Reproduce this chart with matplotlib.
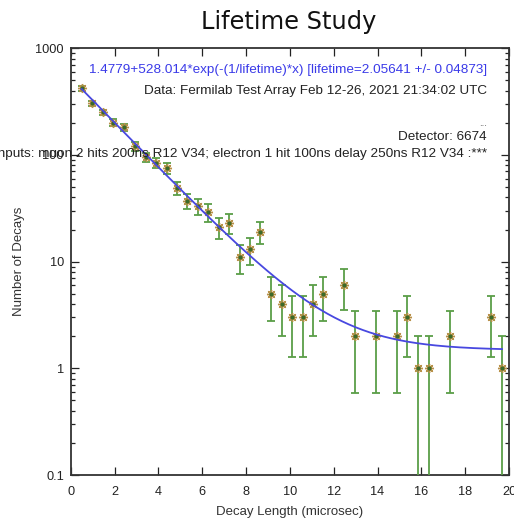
import numpy as np
import matplotlib
matplotlib.use("Agg")
import matplotlib.pyplot as plt
from matplotlib.ticker import LogLocator, FixedLocator, NullFormatter, FixedFormatter

# ---- data ----
decay_length = [0.50, 0.99, 1.46, 1.95, 2.45, 2.94, 3.42, 3.89, 4.38, 4.84,
                5.31, 5.80, 6.28, 6.77, 7.24, 7.73, 8.19, 8.66, 9.13, 9.63,
                10.12, 10.58, 11.05, 11.53, 12.49, 12.99, 13.95, 14.88, 15.36,
                15.84, 16.33, 17.29, 19.20, 19.68]
decays = [422, 305, 251, 201, 182, 121, 95, 84, 75, 49,
          37, 33, 29, 21, 23, 11, 13, 19, 5, 4,
          3, 3, 4, 5, 6, 2, 2, 2, 3,
          1, 1, 2, 3, 1]

fit_offset = 1.4779
fit_amplitude = 528.014
fit_lifetime = 2.05641
fit_lifetime_err = 0.04873

x_ticks = [0, 2, 4, 6, 8, 10, 12, 14, 16, 18, 20]
y_ticks = [0.1, 1, 10, 100, 1000]
y_tick_labels = ["0.1", "1", "10", "100", "1000"]

title = "Lifetime Study"
x_label = "Decay Length (microsec)"
y_label = "Number of Decays"
fit_text = ("1.4779+528.014*exp(-(1/lifetime)*x) "
            "[lifetime=2.05641 +/- 0.04873]")
data_text = "Data: Fermilab Test Array Feb 12-26, 2021 21:34:02 UTC"
dots_text = "..."
detector_text = "Detector: 6674"
inputs_text = ("Inputs: muon 2 hits 200ns R12 V34; electron 1 hit 100ns "
               "delay 250ns R12 V34 :***")

# ---- figure ----
plt.rcParams['font.family'] = ['Liberation Sans', 'DejaVu Sans']
W, H = 514, 522
fig = plt.figure(figsize=(W / 100, H / 100), dpi=100)
ax = fig.add_axes([70.7 / W, 1 - 475 / H, (509 - 70.7) / W, (475 - 48.3) / H])

x = np.array(decay_length)
y = np.array(decays, dtype=float)
yerr = np.sqrt(y)

ax.set_yscale('log', nonpositive='clip')

ax.errorbar(x, y, yerr=yerr, fmt='none', ecolor='#5a9e48', elinewidth=1.3,
            capsize=3.2, capthick=1.3, zorder=3)
ax.plot(x, y, linestyle='none', marker=(8, 2, 0), markersize=6.5,
        markeredgewidth=1.0, color='#b89048', zorder=4)
ax.plot(x, y, linestyle='none', marker='o', markersize=2.0,
        color='#3a6a2a', zorder=5)

xf = np.linspace(min(decay_length), max(decay_length), 300)
yf = fit_offset + fit_amplitude * np.exp(-(1 / fit_lifetime) * xf)
ax.plot(xf, yf, color='#4848e0', linewidth=1.3, zorder=6)

ax.set_xlim(0, 20)
ax.set_ylim(0.1, 1000)
ax.xaxis.set_major_locator(FixedLocator(x_ticks))
ax.yaxis.set_major_locator(FixedLocator(y_ticks))
ax.yaxis.set_major_formatter(FixedFormatter(y_tick_labels))
ax.yaxis.set_minor_locator(LogLocator(base=10, subs=np.arange(2, 10)))
ax.yaxis.set_minor_formatter(NullFormatter())

ax.tick_params(which='both', direction='in', top=True, right=True,
               labelsize=9.2, colors='#222222', width=0.9)
ax.tick_params(which='major', length=6, pad=5)
ax.tick_params(axis='x', which='major', pad=8)
ax.tick_params(which='minor', length=3)
for s in ax.spines.values():
    s.set_linewidth(1.3)
    s.set_color('#333333')

ax.set_xlabel(x_label, fontsize=9.5, color='#333333')
ax.set_ylabel(y_label, fontsize=9.5, color='#333333')
ax.xaxis.set_label_coords(0.5, -(512 - 475) / (475 - 48.3))
ax.yaxis.set_label_coords(-(70.7 - 19) / (509 - 70.7), 0.5)
ax.xaxis.label.set_va('center')
ax.yaxis.label.set_va('center')

fig.text(289 / W, 1 - 22 / H, title, fontsize=17.4, family='DejaVu Sans',
         ha='center', va='center', color='#111111')

tx = 487 / W
fs = 9.7
fig.text(tx, 1 - 70 / H, fit_text, fontsize=fs, color='#3a3ae8',
         ha='right', va='center')
fig.text(tx, 1 - 91 / H, data_text, fontsize=fs, color='#222222',
         ha='right', va='center')
fig.text(tx, 1 - 123 / H, dots_text, fontsize=7, color='#555555',
         ha='right', va='center')
fig.text(tx, 1 - 137 / H, detector_text, fontsize=fs, color='#222222',
         ha='right', va='center')
fig.text(tx, 1 - 154 / H, inputs_text, fontsize=fs, color='#222222',
         ha='right', va='center')

fig.savefig("out.png", dpi=100)
